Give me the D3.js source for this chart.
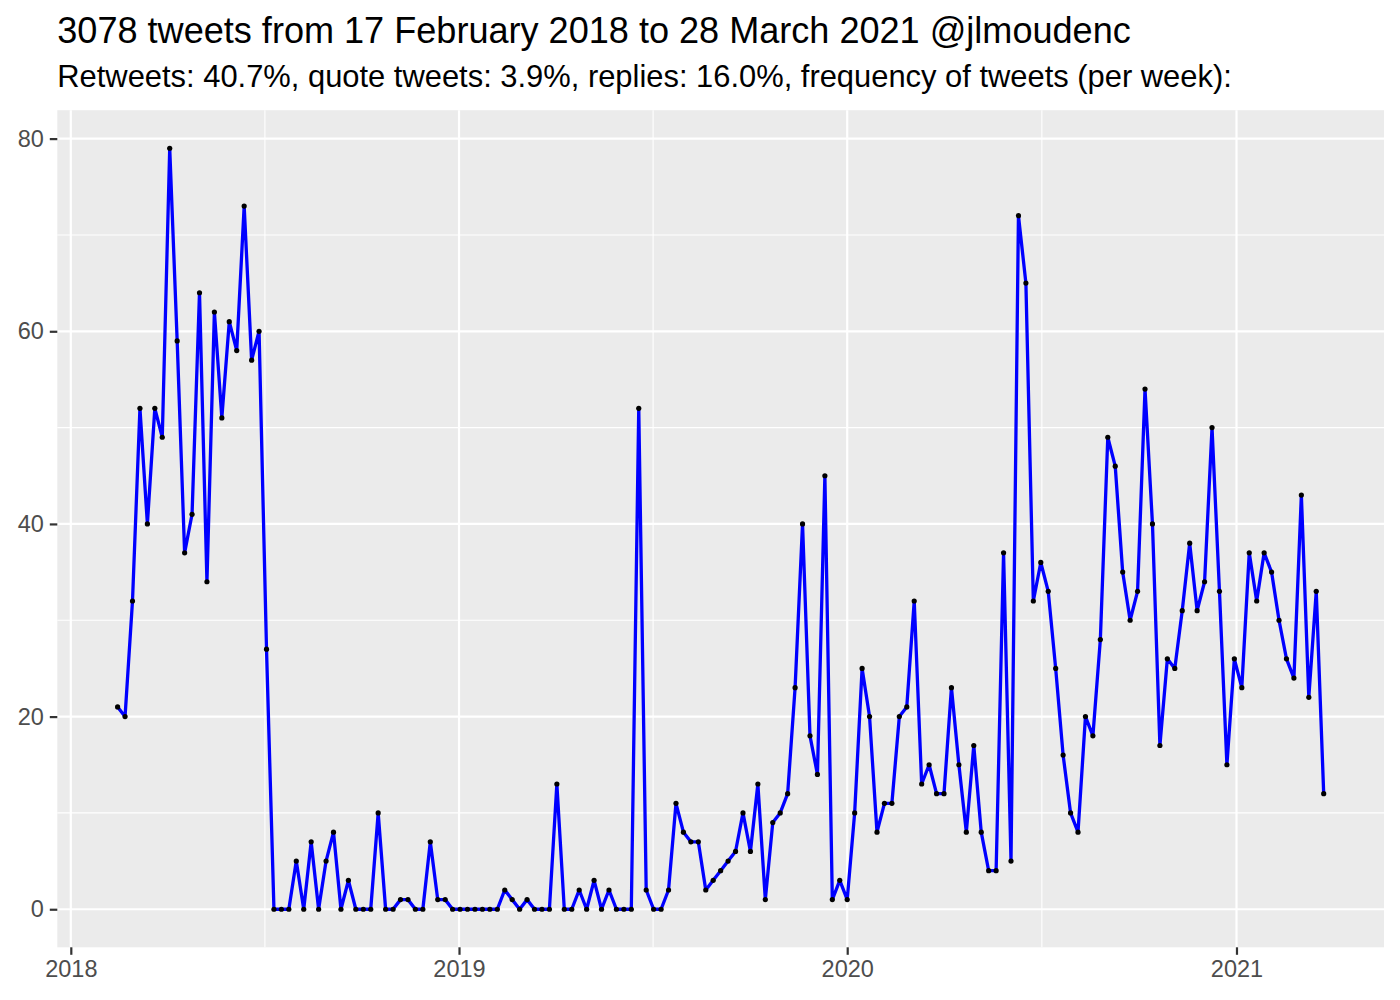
<!DOCTYPE html>
<html>
<head>
<meta charset="utf-8">
<title>Tweets per week</title>
<script src="https://cdnjs.cloudflare.com/ajax/libs/d3/7.8.5/d3.min.js"></script>
<style>
  body { margin: 0; background: #fff; }
  text { font-family: "Liberation Sans", Arial, Helvetica, sans-serif; }
</style>
</head>
<body>
<svg id="chart" width="1400" height="1000"></svg>
<script>
// weekly tweet counts, first week starting 14 Feb 2018
var firstWeek = "2018-02-14";
var counts = [
  21, 20, 32, 52, 40, 52, 49, 79, 59, 37, 41, 64, 34, 62, 51, 61, 58, 73, 57, 60, 27,
  0, 0, 0, 5, 0, 7, 0, 5, 8, 0, 3, 0, 0, 0, 10, 0, 0, 1, 1, 0, 0, 7, 1, 1,
  0, 0, 0, 0, 0, 0, 0,
  2, 1, 0, 1, 0, 0, 0, 13,
  0, 0, 2, 0, 3, 0, 2, 0, 0, 0, 52,
  2, 0, 0, 2, 11, 8, 7, 7, 2, 3, 4, 5, 6, 10, 6, 13, 1, 9, 10, 12, 23, 40, 18, 14, 45,
  1, 3, 1, 10, 25, 20, 8, 11, 11, 20, 21, 32, 13, 15, 12, 12, 23, 15, 8, 17, 8, 4, 4, 37, 5, 72, 65, 32, 36, 33, 25,
  16, 10, 8, 20, 18, 28, 49, 46, 35, 30, 33, 54, 40, 17, 26, 25, 31, 38, 31, 34, 50, 33, 15, 26, 23, 37, 32, 37, 35, 30, 26, 24, 43, 22, 33, 12
];
var yTicks = [0, 20, 40, 60, 80];
var yMinor = [10, 30, 50, 70];
var xTickYears = ["2018", "2019", "2020", "2021"];

var titleText = "3078 tweets from 17 February 2018 to 28 March 2021 @jlmoudenc";
var subtitleText = "Retweets: 40.7%, quote tweets: 3.9%, replies: 16.0%, frequency of tweets (per week):";

var start = d3.utcParse("%Y-%m-%d")(firstWeek);
var data = counts.map(function (v, i) {
  return { date: d3.utcDay.offset(start, 7 * i), n: v };
});

var svg = d3.select("#chart");

// panel box (ggplot style)
var panel = { left: 57.3, right: 1384, top: 110.2, bottom: 947.3 };

// 5% expansion like ggplot
var xExt = d3.extent(data, function (d) { return d.date; });
var xPad = (xExt[1] - xExt[0]) * 0.05;
var x = d3.scaleUtc()
  .domain([new Date(+xExt[0] - xPad), new Date(+xExt[1] + xPad)])
  .range([panel.left, panel.right]);

var yMax = d3.max(counts);
var yPad = yMax * 0.05;
var y = d3.scaleLinear()
  .domain([-yPad, yMax + yPad])
  .range([panel.bottom, panel.top]);

svg.append("rect")
  .attr("x", panel.left).attr("y", panel.top)
  .attr("width", panel.right - panel.left)
  .attr("height", panel.bottom - panel.top)
  .attr("fill", "#EBEBEB");

var xMajor = xTickYears.map(function (s) { return d3.utcParse("%Y")(s); });
var xMinor = [];
for (var i = 0; i < xMajor.length - 1; i++) {
  xMinor.push(new Date((+xMajor[i] + +xMajor[i + 1]) / 2));
}

var grid = svg.append("g");
// minor grid
grid.selectAll(".ymin").data(yMinor).enter().append("line")
  .attr("x1", panel.left).attr("x2", panel.right)
  .attr("y1", function (d) { return y(d); }).attr("y2", function (d) { return y(d); })
  .attr("stroke", "#fff").attr("stroke-width", 1.1);
grid.selectAll(".xmin").data(xMinor).enter().append("line")
  .attr("y1", panel.top).attr("y2", panel.bottom)
  .attr("x1", function (d) { return x(d); }).attr("x2", function (d) { return x(d); })
  .attr("stroke", "#fff").attr("stroke-width", 1.1);
// major grid
grid.selectAll(".ymaj").data(yTicks).enter().append("line")
  .attr("x1", panel.left).attr("x2", panel.right)
  .attr("y1", function (d) { return y(d); }).attr("y2", function (d) { return y(d); })
  .attr("stroke", "#fff").attr("stroke-width", 2.2);
grid.selectAll(".xmaj").data(xMajor).enter().append("line")
  .attr("y1", panel.top).attr("y2", panel.bottom)
  .attr("x1", function (d) { return x(d); }).attr("x2", function (d) { return x(d); })
  .attr("stroke", "#fff").attr("stroke-width", 2.2);

// axes
var yAxis = d3.axisLeft(y).tickValues(yTicks).tickSize(7.5).tickPadding(6);
var xAxis = d3.axisBottom(x).tickValues(xMajor).tickSize(7.5).tickPadding(6)
  .tickFormat(d3.utcFormat("%Y"));

var gy = svg.append("g").attr("transform", "translate(" + panel.left + ",0)").call(yAxis);
var gx = svg.append("g").attr("transform", "translate(0," + panel.bottom + ")").call(xAxis);
[gx, gy].forEach(function (g) {
  g.select(".domain").remove();
  g.selectAll(".tick line").attr("stroke", "#333333").attr("stroke-width", 2.2);
  g.selectAll(".tick text").attr("fill", "#4D4D4D").attr("font-size", 23.5)
    .style("font-family", "'Liberation Sans', Arial, sans-serif");
});

// series
var line = d3.line()
  .x(function (d) { return x(d.date); })
  .y(function (d) { return y(d.n); });

svg.append("path")
  .datum(data)
  .attr("d", line)
  .attr("fill", "none")
  .attr("stroke", "#0000FF")
  .attr("stroke-width", 3.3)
  .attr("stroke-linejoin", "round");

svg.append("g").selectAll("circle").data(data).enter().append("circle")
  .attr("cx", function (d) { return x(d.date); })
  .attr("cy", function (d) { return y(d.n); })
  .attr("r", 2.6)
  .attr("fill", "#000");

// titles
svg.append("text")
  .attr("x", panel.left).attr("y", 43)
  .attr("font-size", 36.1).attr("fill", "#000")
  .text(titleText);
svg.append("text")
  .attr("x", panel.left).attr("y", 87)
  .attr("font-size", 30.9).attr("fill", "#000")
  .text(subtitleText);
</script>
</body>
</html>
